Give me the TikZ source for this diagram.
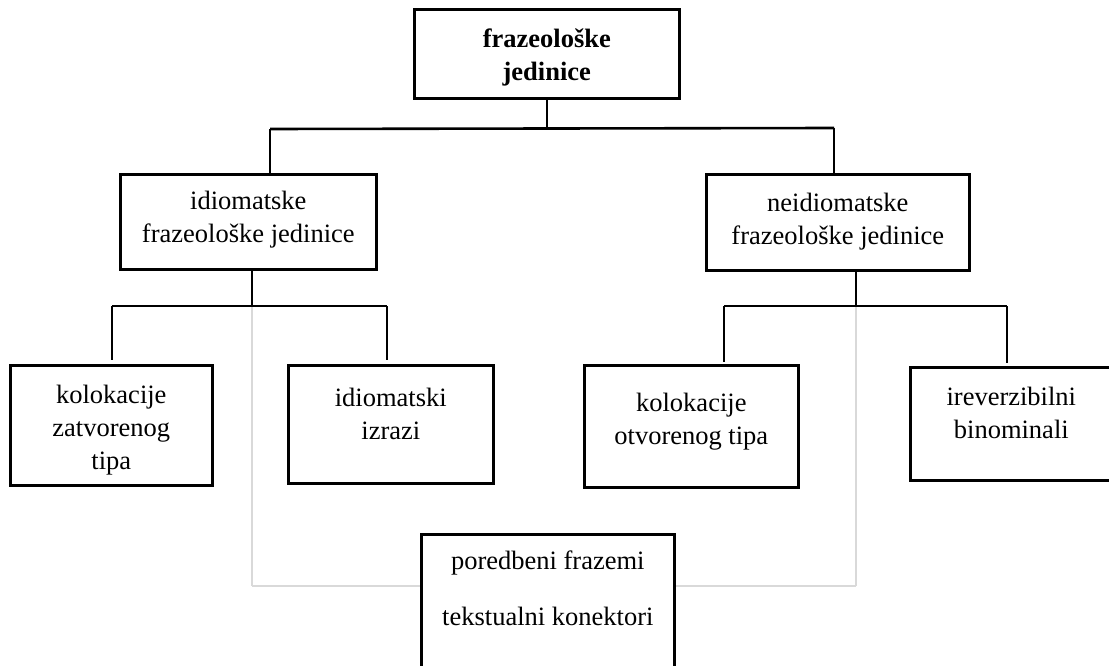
\documentclass[tikz,border=0pt]{standalone}
\usepackage{fontspec}
\setmainfont{Liberation Serif}
\newcommand{\bxt}[4]{\begin{minipage}[c][#2pt][t]{#1pt}\vspace*{#3pt}\centering\strut #4\end{minipage}}
\begin{document}
\begin{tikzpicture}[x=1pt,y=-1pt,
  box/.style={draw=black, line width=2.6pt, inner sep=0pt, anchor=north west, fill=white},
  conn/.style={draw=black, line width=2.6pt},
  faint/.style={draw=black!15, line width=2pt},
  font=\fontsize{26.5}{33}\selectfont]
\useasboundingbox[fill=white] (0,0) rectangle (1109,666);

% junction coordinates
\coordinate (hl) at (270,129);
\coordinate (hr) at (834,128);
\coordinate (lj) at (252,306);
\coordinate (l1) at (112,306);
\coordinate (l2) at (387,306);
\coordinate (rj) at (856,306);
\coordinate (r1) at (724,306);
\coordinate (r2) at (1007,306);
\coordinate (gl) at (252,586);
\coordinate (gr) at (856,586);

% faint grey connectors (drawn first)
\draw[faint] (lj) -- (gl);
\draw[faint] (rj) -- (gr);

% boxes
\node[box] (top) at (413,8) {\bxt{265}{89}{14.9}{\bfseries frazeološke\\jedinice}};
\node[box] (lm) at (119,173) {\bxt{256}{95}{11.9}{idiomatske\\frazeološke jedinice}};
\node[box] (rm) at (705,173) {\bxt{263}{96}{13.9}{neidiomatske\\frazeološke jedinice}};
\node[box] (b1) at (9,364) {\bxt{202}{120}{14.9}{kolokacije\\zatvorenog\\tipa}};
\node[box] (b2) at (287,364) {\bxt{205}{118}{17.9}{idiomatski\\izrazi}};
\node[box] (b3) at (583,364) {\bxt{214}{122}{22.9}{kolokacije\\otvorenog tipa}};
\node[box] (b4) at (909,366) {\bxt{202}{113}{14.9}{ireverzibilni\\binominali}};
\node[box] (b5) at (420,533) {\bxt{253}{150}{11.9}{poredbeni frazemi\\[23pt]tekstualni konektori}};

\draw[faint] (gl) -- (gl -| b5.west);
\draw[faint] (gr) -- (gr -| b5.east);

% black connectors
\draw[conn] (top.south) -- (top.south |- hl);
\draw[conn] (hl) -- (hr);
\draw[conn] (hl) -- (hl |- lm.north);
\draw[conn] (hr) -- (hr |- rm.north);

\draw[conn] (lj |- lm.south) -- (lj);
\draw[conn] (l1) -- (l2);
\draw[conn, shorten >=4pt] (l1) -- (l1 |- b1.north);
\draw[conn, shorten >=4pt] (l2) -- (l2 |- b2.north);

\draw[conn] (rj |- rm.south) -- (rj);
\draw[conn] (r1) -- (r2);
\draw[conn, shorten >=2pt] (r1) -- (r1 |- b3.north);
\draw[conn, shorten >=3pt] (r2) -- (r2 |- b4.north);
\end{tikzpicture}
\end{document}
